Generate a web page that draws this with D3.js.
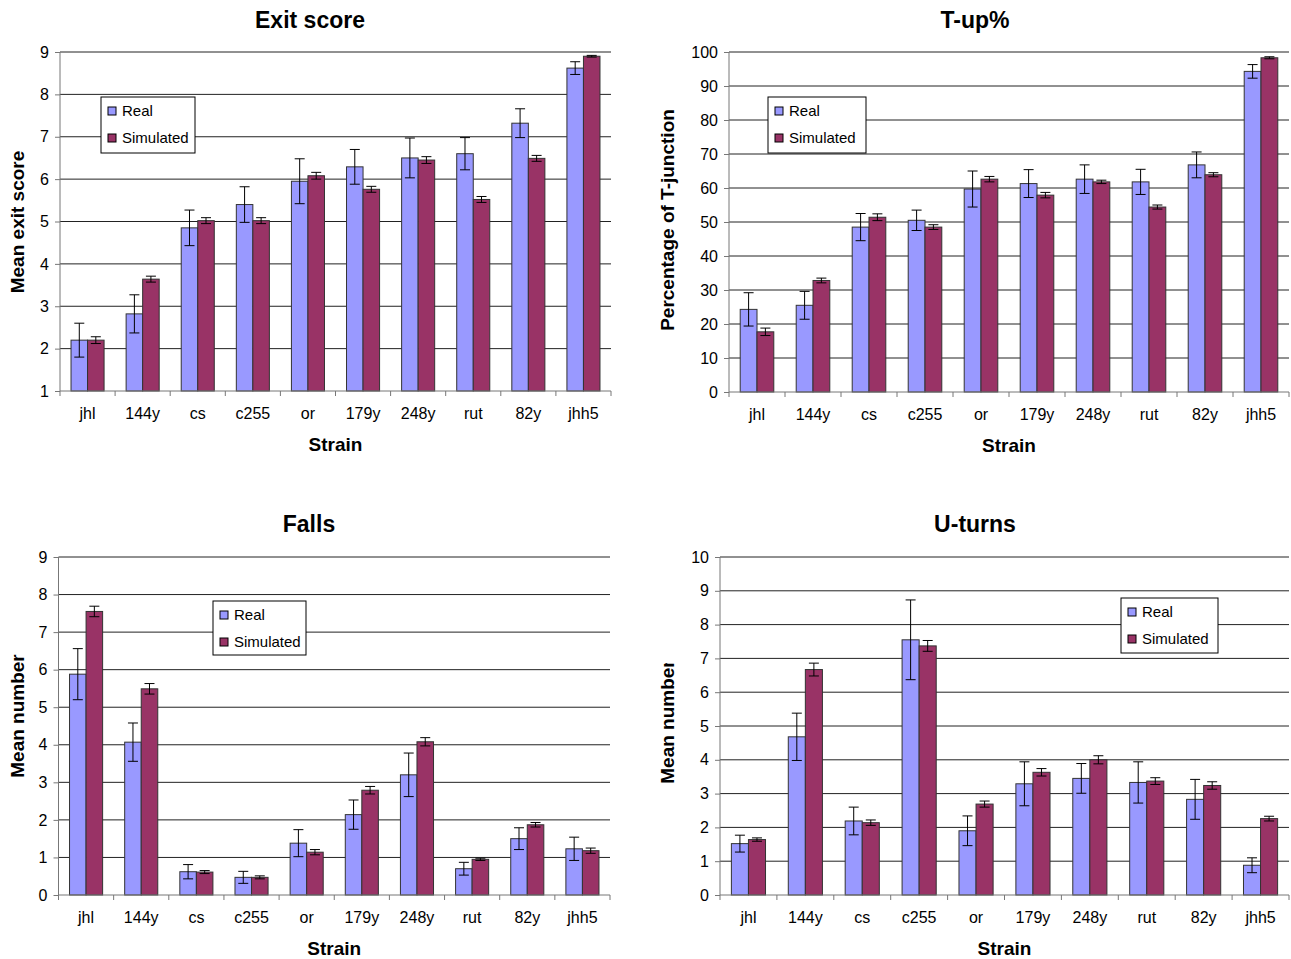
<!DOCTYPE html>
<html>
<head>
<meta charset="utf-8">
<script src="https://cdn.jsdelivr.net/npm/d3@7"></script>
<style>
  html, body { margin: 0; padding: 0; background: #fff; }
  svg { display: block; font-family: "Liberation Sans", Arial, sans-serif; }
</style>
</head>
<body>
<svg id="chart" width="1291" height="959"></svg>
<script>
// Strains shown on every panel
const strains = ["jhl", "144y", "cs", "c255", "or", "179y", "248y", "rut", "82y", "jhh5"];
const seriesNames = ["Real", "Simulated"];

// Exit score
const exitReal    = [2.20, 2.82, 4.85, 5.40, 5.95, 6.29, 6.50, 6.60, 7.32, 8.62];
const exitRealErr = [0.40, 0.45, 0.42, 0.42, 0.53, 0.41, 0.47, 0.38, 0.34, 0.15];
const exitSim     = [2.20, 3.64, 5.02, 5.02, 6.08, 5.76, 6.45, 5.52, 6.49, 8.90];
const exitSimErr  = [0.08, 0.07, 0.07, 0.07, 0.08, 0.07, 0.08, 0.07, 0.07, 0.02];
const exitTicks   = [1, 2, 3, 4, 5, 6, 7, 8, 9];

// T-up%
const tupReal    = [24.3, 25.5, 48.5, 50.5, 59.7, 61.3, 62.6, 61.8, 66.8, 94.3];
const tupRealErr = [4.9, 4.1, 4.0, 3.0, 5.3, 4.1, 4.2, 3.7, 3.8, 2.0];
const tupSim     = [17.7, 32.8, 51.4, 48.5, 62.6, 57.9, 61.8, 54.4, 63.9, 98.3];
const tupSimErr  = [1.1, 0.7, 1.0, 0.7, 0.8, 0.8, 0.5, 0.6, 0.6, 0.3];
const tupTicks   = [0, 10, 20, 30, 40, 50, 60, 70, 80, 90, 100];

// Falls
const fallsReal    = [5.88, 4.07, 0.62, 0.47, 1.38, 2.14, 3.20, 0.70, 1.50, 1.23];
const fallsRealErr = [0.68, 0.51, 0.19, 0.16, 0.36, 0.39, 0.58, 0.17, 0.29, 0.31];
const fallsSim     = [7.55, 5.49, 0.61, 0.47, 1.14, 2.79, 4.08, 0.95, 1.87, 1.18];
const fallsSimErr  = [0.14, 0.14, 0.04, 0.04, 0.07, 0.10, 0.11, 0.03, 0.06, 0.07];
const fallsTicks   = [0, 1, 2, 3, 4, 5, 6, 7, 8, 9];

// U-turns
const uturnReal    = [1.52, 4.68, 2.19, 7.55, 1.90, 3.29, 3.45, 3.33, 2.83, 0.88];
const uturnRealErr = [0.25, 0.70, 0.41, 1.18, 0.44, 0.65, 0.44, 0.61, 0.59, 0.22];
const uturnSim     = [1.64, 6.67, 2.14, 7.37, 2.69, 3.63, 4.00, 3.37, 3.24, 2.26];
const uturnSimErr  = [0.05, 0.19, 0.08, 0.16, 0.09, 0.11, 0.12, 0.10, 0.11, 0.07];
const uturnTicks   = [0, 1, 2, 3, 4, 5, 6, 7, 8, 9, 10];

const colors = { Real: "#9999FF", Simulated: "#993366" };

const svg = d3.select("#chart");

const panels = [
  { title: "Exit score", ytitle: "Mean exit score", titleX: 310, titleY: 28,
    left: 60, right: 611, top: 52, bottom: 391, ticks: exitTicks,
    real: exitReal, realErr: exitRealErr, sim: exitSim, simErr: exitSimErr,
    ytX: 24, ytY: 222, legend: { x: 101, y: 97, w: 94, h: 56 } },
  { title: "T-up%", ytitle: "Percentage of T-junction", titleX: 975, titleY: 28,
    left: 729, right: 1289, top: 52, bottom: 392, ticks: tupTicks,
    real: tupReal, realErr: tupRealErr, sim: tupSim, simErr: tupSimErr,
    ytX: 674, ytY: 220, legend: { x: 768, y: 97, w: 98, h: 56 } },
  { title: "Falls", ytitle: "Mean number", titleX: 309, titleY: 532,
    left: 58.5, right: 610, top: 557, bottom: 895, ticks: fallsTicks,
    real: fallsReal, realErr: fallsRealErr, sim: fallsSim, simErr: fallsSimErr,
    ytX: 24, ytY: 716, legend: { x: 213, y: 601, w: 93, h: 54 } },
  { title: "U-turns", ytitle: "Mean number", titleX: 975, titleY: 532,
    left: 720, right: 1289, top: 557, bottom: 895, ticks: uturnTicks,
    real: uturnReal, realErr: uturnRealErr, sim: uturnSim, simErr: uturnSimErr,
    ytX: 674, ytY: 722, clipTop: 663, legend: { x: 1121, y: 598, w: 97, h: 55 } }
];

panels.forEach((p, pi) => {
  const g = svg.append("g");
  const yDomain = d3.extent(p.ticks);
  const y = d3.scaleLinear().domain(yDomain).range([p.bottom, p.top]);
  const x = d3.scaleBand().domain(strains).range([p.left, p.right]).paddingInner(0).paddingOuter(0);
  const xs = d3.scaleBand().domain(seriesNames).range([0, x.step()]).paddingInner(0).paddingOuter(0.667);

  // gridlines
  g.append("g").selectAll("line").data(p.ticks.filter(t => t !== yDomain[0])).join("line")
    .attr("x1", p.left).attr("x2", p.right)
    .attr("y1", d => y(d)).attr("y2", d => y(d))
    .attr("stroke", "#222").attr("stroke-width", 1);

  // y axis
  const yAxis = d3.axisLeft(y).tickValues(p.ticks).tickSize(5).tickPadding(6);
  const ya = g.append("g").attr("transform", `translate(${p.left},0)`).call(yAxis);
  ya.select(".domain").attr("stroke", "#777").attr("d", `M0,${p.top}V${p.bottom}`);
  ya.selectAll(".tick line").attr("stroke", "#777");
  ya.selectAll(".tick text").attr("font-size", 16).attr("fill", "#000")
    .attr("font-family", "'Liberation Sans', Arial, sans-serif");

  // bars
  const rows = strains.map((s, i) => [
    { s, key: "Real", v: p.real[i], e: p.realErr[i] },
    { s, key: "Simulated", v: p.sim[i], e: p.simErr[i] }
  ]).flat();

  const bars = g.append("g");
  bars.selectAll("rect").data(rows).join("rect")
    .attr("x", d => x(d.s) + xs(d.key))
    .attr("width", xs.bandwidth())
    .attr("y", d => y(d.v))
    .attr("height", d => p.bottom - y(d.v))
    .attr("fill", d => colors[d.key])
    .attr("stroke", "#333").attr("stroke-width", 1);

  // error bars
  const eb = g.append("g").attr("stroke", "#000").attr("stroke-width", 1);
  const cx = d => x(d.s) + xs(d.key) + xs.bandwidth() / 2;
  eb.selectAll("line.v").data(rows).join("line").attr("class", "v")
    .attr("x1", cx).attr("x2", cx)
    .attr("y1", d => y(d.v + d.e)).attr("y2", d => y(d.v - d.e));
  eb.selectAll("line.t").data(rows).join("line").attr("class", "t")
    .attr("x1", d => cx(d) - 5).attr("x2", d => cx(d) + 5)
    .attr("y1", d => y(d.v + d.e)).attr("y2", d => y(d.v + d.e));
  eb.selectAll("line.b").data(rows).join("line").attr("class", "b")
    .attr("x1", d => cx(d) - 5).attr("x2", d => cx(d) + 5)
    .attr("y1", d => y(d.v - d.e)).attr("y2", d => y(d.v - d.e));

  // x axis with ticks on band boundaries
  const xa = g.append("g");
  xa.append("line").attr("x1", p.left).attr("x2", p.right)
    .attr("y1", p.bottom).attr("y2", p.bottom).attr("stroke", "#777");
  const bounds = strains.map(s => x(s)).concat([p.right]);
  xa.selectAll("line.tk").data(bounds).join("line").attr("class", "tk")
    .attr("x1", d => d).attr("x2", d => d)
    .attr("y1", p.bottom).attr("y2", p.bottom + 5).attr("stroke", "#777");
  xa.selectAll("text").data(strains).join("text")
    .attr("x", d => x(d) + x.bandwidth() / 2)
    .attr("y", p.bottom + 28)
    .attr("text-anchor", "middle").attr("font-size", 16).text(d => d);

  // x title
  g.append("text").attr("x", (p.left + p.right) / 2).attr("y", p.bottom + 60)
    .attr("text-anchor", "middle").attr("font-size", 19).attr("font-weight", "bold").text("Strain");

  // panel title
  g.append("text").attr("x", p.titleX).attr("y", p.titleY)
    .attr("text-anchor", "middle").attr("font-size", 23).attr("font-weight", "bold").text(p.title);

  // y title (the U-turns one is cut off at the top)
  const ytHolder = g.append("g");
  if (p.clipTop !== undefined) {
    const id = "ytclip" + pi;
    svg.append("clipPath").attr("id", id).append("rect")
      .attr("x", p.ytX - 30).attr("y", p.clipTop).attr("width", 40).attr("height", 300);
    ytHolder.attr("clip-path", `url(#${id})`);
  }
  ytHolder.append("text")
    .attr("transform", `translate(${p.ytX},${p.ytY}) rotate(-90)`)
    .attr("text-anchor", "middle").attr("font-size", 19).attr("font-weight", "bold").text(p.ytitle);

  // legend
  const L = p.legend;
  const lg = g.append("g").attr("transform", `translate(${L.x},${L.y})`);
  lg.append("rect").attr("width", L.w).attr("height", L.h)
    .attr("fill", "#fff").attr("stroke", "#000").attr("stroke-width", 1);
  seriesNames.forEach((n, i) => {
    const cy = 14 + i * 27;
    lg.append("rect").attr("x", 7).attr("y", cy - 4).attr("width", 8).attr("height", 8)
      .attr("fill", colors[n]).attr("stroke", "#000").attr("stroke-width", 1);
    lg.append("text").attr("x", 21).attr("y", cy + 5).attr("font-size", 15).text(n);
  });
});
</script>
</body>
</html>
